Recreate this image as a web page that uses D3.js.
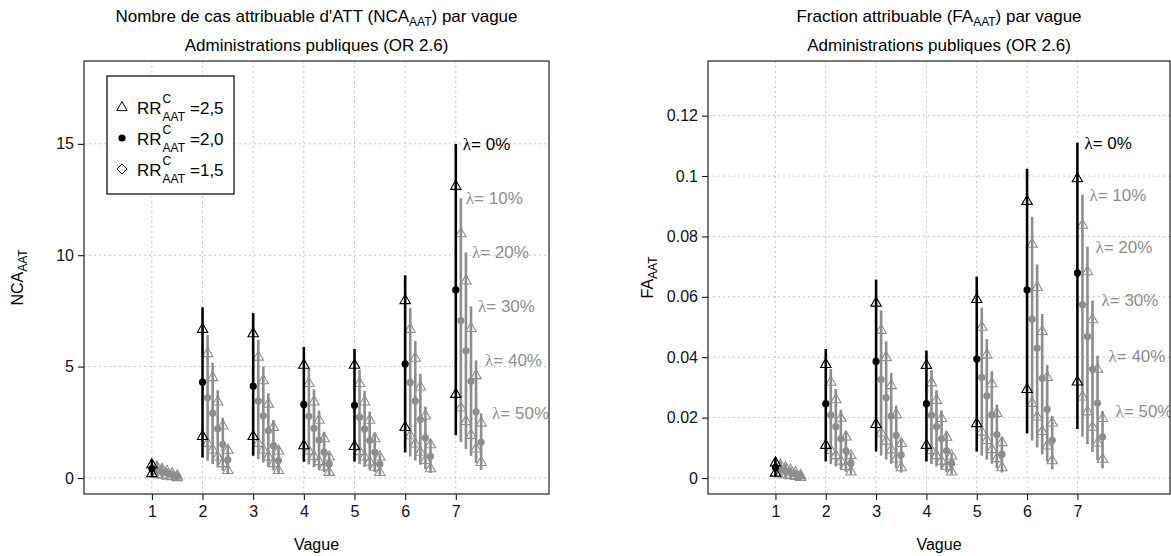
<!DOCTYPE html>
<html lang="fr">
<head>
<meta charset="UTF-8">
<title>NCA et FA attribuables par vague</title>
<script src="https://d3js.org/d3.v7.min.js"></script>
<style>
  body { margin: 0; background: #fff; }
  svg text { font-family: "Liberation Sans", Arial, sans-serif; }
</style>
</head>
<body>
<div id="chart"></div>
<script>
// Vagues et niveaux de lambda
var vagues = [1, 2, 3, 4, 5, 6, 7];
var lambdas = ["0%", "10%", "20%", "30%", "40%", "50%"];

// NCA : une ligne par lambda (0% .. 50%), une colonne par vague (1 .. 7)
var ncaHaut = [
  [0.85, 7.66, 7.40, 5.88, 5.79, 9.10, 14.99],
  [0.71, 6.42, 6.20, 4.93, 4.85, 7.63, 12.56],
  [0.57, 5.18, 5.00, 3.97, 3.91, 6.15, 10.13],
  [0.44, 3.94, 3.80, 3.02, 2.98, 4.68, 7.70],
  [0.30, 2.70, 2.60, 2.07, 2.04, 3.20, 5.28],
  [0.16, 1.46, 1.41, 1.12, 1.10, 1.73, 2.90]
];
var ncaRR25 = [
  [0.62, 6.70, 6.50, 5.09, 5.09, 7.99, 13.12],
  [0.52, 5.61, 5.45, 4.27, 4.27, 6.70, 10.99],
  [0.42, 4.53, 4.39, 3.44, 3.44, 5.40, 8.87],
  [0.32, 3.44, 3.34, 2.62, 2.62, 4.11, 6.74],
  [0.22, 2.36, 2.29, 1.79, 1.79, 2.81, 4.62],
  [0.12, 1.27, 1.24, 0.97, 0.97, 1.52, 2.49]
];
var ncaRR20 = [
  [0.42, 4.30, 4.12, 3.30, 3.26, 5.12, 8.44],
  [0.35, 3.60, 3.45, 2.77, 2.73, 4.29, 7.07],
  [0.28, 2.91, 2.79, 2.23, 2.20, 3.46, 5.71],
  [0.22, 2.21, 2.12, 1.70, 1.68, 2.63, 4.34],
  [0.15, 1.51, 1.45, 1.16, 1.15, 1.80, 2.97],
  [0.08, 0.82, 0.78, 0.63, 0.62, 0.97, 1.60]
];
var ncaRR15 = [
  [0.22, 1.89, 1.89, 1.47, 1.44, 2.29, 3.78],
  [0.18, 1.58, 1.58, 1.23, 1.21, 1.92, 3.17],
  [0.15, 1.28, 1.28, 0.99, 0.97, 1.55, 2.56],
  [0.11, 0.97, 0.97, 0.76, 0.74, 1.18, 1.94],
  [0.08, 0.67, 0.67, 0.52, 0.51, 0.81, 1.33],
  [0.04, 0.36, 0.36, 0.28, 0.27, 0.44, 0.72]
];
var ncaBas = [
  [0.08, 0.92, 1.00, 0.73, 0.74, 1.15, 1.92],
  [0.07, 0.77, 0.84, 0.61, 0.62, 0.96, 1.61],
  [0.05, 0.62, 0.68, 0.49, 0.50, 0.78, 1.30],
  [0.04, 0.47, 0.51, 0.38, 0.38, 0.59, 0.99],
  [0.03, 0.32, 0.35, 0.26, 0.26, 0.40, 0.68],
  [0.02, 0.17, 0.19, 0.14, 0.14, 0.22, 0.36]
];

// FA : même organisation
var faHaut = [
  [0.0068, 0.0427, 0.0657, 0.0422, 0.0667, 0.1024, 0.1110],
  [0.0057, 0.0361, 0.0555, 0.0357, 0.0564, 0.0865, 0.0938],
  [0.0047, 0.0295, 0.0453, 0.0291, 0.0460, 0.0707, 0.0766],
  [0.0036, 0.0226, 0.0348, 0.0224, 0.0354, 0.0543, 0.0588],
  [0.0025, 0.0156, 0.0240, 0.0154, 0.0243, 0.0374, 0.0405],
  [0.0014, 0.0085, 0.0131, 0.0084, 0.0133, 0.0205, 0.0222]
];
var faRR25 = [
  [0.0052, 0.0378, 0.0581, 0.0375, 0.0593, 0.0918, 0.0993],
  [0.0044, 0.0319, 0.0491, 0.0317, 0.0501, 0.0776, 0.0839],
  [0.0036, 0.0261, 0.0401, 0.0259, 0.0409, 0.0633, 0.0685],
  [0.0028, 0.0200, 0.0308, 0.0199, 0.0314, 0.0487, 0.0526],
  [0.0019, 0.0138, 0.0212, 0.0137, 0.0216, 0.0335, 0.0362],
  [0.0010, 0.0076, 0.0116, 0.0075, 0.0119, 0.0184, 0.0199]
];
var faRR20 = [
  [0.0035, 0.0246, 0.0386, 0.0246, 0.0394, 0.0623, 0.0679],
  [0.0030, 0.0208, 0.0326, 0.0208, 0.0333, 0.0526, 0.0574],
  [0.0024, 0.0170, 0.0266, 0.0170, 0.0272, 0.0430, 0.0469],
  [0.0019, 0.0130, 0.0205, 0.0130, 0.0209, 0.0330, 0.0360],
  [0.0013, 0.0090, 0.0141, 0.0090, 0.0144, 0.0227, 0.0248],
  [0.0007, 0.0049, 0.0077, 0.0049, 0.0079, 0.0125, 0.0136]
];
var faRR15 = [
  [0.0018, 0.0110, 0.0179, 0.0110, 0.0182, 0.0295, 0.0320],
  [0.0015, 0.0093, 0.0151, 0.0093, 0.0154, 0.0249, 0.0270],
  [0.0012, 0.0076, 0.0124, 0.0076, 0.0126, 0.0204, 0.0221],
  [0.0010, 0.0058, 0.0095, 0.0058, 0.0096, 0.0156, 0.0170],
  [0.0007, 0.0040, 0.0065, 0.0040, 0.0066, 0.0108, 0.0117],
  [0.0004, 0.0022, 0.0036, 0.0022, 0.0036, 0.0059, 0.0064]
];
var faBas = [
  [0.0006, 0.0055, 0.0088, 0.0055, 0.0088, 0.0147, 0.0162],
  [0.0005, 0.0046, 0.0074, 0.0046, 0.0074, 0.0124, 0.0137],
  [0.0004, 0.0038, 0.0061, 0.0038, 0.0061, 0.0101, 0.0112],
  [0.0003, 0.0029, 0.0047, 0.0029, 0.0047, 0.0078, 0.0086],
  [0.0002, 0.0020, 0.0032, 0.0020, 0.0032, 0.0054, 0.0059],
  [0.0001, 0.0011, 0.0018, 0.0011, 0.0018, 0.0029, 0.0032]
];

var ncaTicks = [0, 5, 10, 15];
var ncaTickLabels = ["0", "5", "10", "15"];
var faTicks = [0, 0.02, 0.04, 0.06, 0.08, 0.1, 0.12];
var faTickLabels = ["0", "0.02", "0.04", "0.06", "0.08", "0.1", "0.12"];
var legendLabels = ["=2,5", "=2,0", "=1,5"];

var width = 1171, height = 556;
var grey = "#8e8e8e";

var svg = d3.select("#chart").append("svg")
  .attr("width", width)
  .attr("height", height);

// triangle ouvert (pch 2)
function triangle(x, y) {
  return "M" + x + "," + (y - 5.5) + "L" + (x + 5.2) + "," + (y + 3.6) + "L" + (x - 5.2) + "," + (y + 3.6) + "Z";
}
function diamond(x, y) {
  return "M" + x + "," + (y - 5) + "L" + (x + 5) + "," + y + "L" + x + "," + (y + 5) + "L" + (x - 5) + "," + y + "Z";
}

// texte avec indice : main + sub + reste
function subText(g, x, y, main, sub, rest, size) {
  var t = g.append("text")
    .attr("x", x).attr("y", y)
    .attr("text-anchor", "middle")
    .style("font-size", size + "px");
  t.append("tspan").text(main);
  if (sub) t.append("tspan").attr("dy", 4).style("font-size", Math.round(size * 0.72) + "px").text(sub);
  if (rest) t.append("tspan").attr("dy", -4).text(rest);
  return t;
}

function drawPanel(p) {
  var g = svg.append("g");
  var x = d3.scaleLinear().domain([-0.34, 8.84]).range([p.left, p.right]);
  var y = d3.scaleLinear().domain(p.yDomain).range([p.bottom, p.top]);
  var cx = (p.left + p.right) / 2;

  // titres
  subText(g, cx, 22, p.title[0], p.title[1], p.title[2], 17);
  g.append("text").attr("x", cx).attr("y", 51)
    .attr("text-anchor", "middle").style("font-size", "17px")
    .text("Administrations publiques (OR 2.6)");

  // grille
  g.selectAll(".gx").data(vagues).enter().append("line")
    .attr("x1", function(d) { return x(d); }).attr("x2", function(d) { return x(d); })
    .attr("y1", p.top).attr("y2", p.bottom)
    .attr("stroke", "#c4c4c4").attr("stroke-dasharray", "2,3");
  g.selectAll(".gy").data(p.ticks).enter().append("line")
    .attr("y1", function(d) { return y(d); }).attr("y2", function(d) { return y(d); })
    .attr("x1", p.left).attr("x2", p.right)
    .attr("stroke", "#c4c4c4").attr("stroke-dasharray", "2,3");

  // axes
  var ax = g.append("g").attr("transform", "translate(0," + p.bottom + ")")
    .call(d3.axisBottom(x).tickValues(vagues).tickSize(6).tickSizeOuter(0).tickPadding(6));
  var ay = g.append("g").attr("transform", "translate(" + p.left + ",0)")
    .call(d3.axisLeft(y).tickValues(p.ticks).tickSize(6).tickSizeOuter(0).tickPadding(4)
      .tickFormat(function(d, i) { return p.tickLabels[i]; }));
  [ax, ay].forEach(function(a) {
    a.select(".domain").remove();
    a.selectAll("text").style("font-size", "16px").attr("fill", "#111")
      .style("font-family", "'Liberation Sans', Arial, sans-serif");
    a.selectAll("line").attr("stroke", "#000");
  });

  // étiquettes d'axes
  subText(g, cx, 550, "Vague", "", "", 16);
  var yl = subText(g, 0, 0, p.ylab, "AAT", "", 16);
  yl.attr("transform", "translate(" + p.ylabX + "," + ((p.top + p.bottom) / 2) + ") rotate(-90)");

  // clip de la zone de tracé
  var clipId = "clip" + p.id;
  g.append("clipPath").attr("id", clipId).append("rect")
    .attr("x", p.left).attr("y", p.top)
    .attr("width", p.right - p.left).attr("height", p.bottom - p.top);
  var plot = g.append("g").attr("clip-path", "url(#" + clipId + ")");

  // barres et points, du plus grand lambda au plus petit
  for (var k = lambdas.length - 1; k >= 0; k--) {
    var col = k === 0 ? "#000" : grey;
    vagues.forEach(function(v, i) {
      var px = x(v + 0.1 * k);
      plot.append("line")
        .attr("x1", px).attr("x2", px)
        .attr("y1", y(p.hi[k][i])).attr("y2", y(p.lo[k][i]))
        .attr("stroke", col).attr("stroke-width", 2.6);
      plot.append("path").attr("d", triangle(px, y(p.rr25[k][i])))
        .attr("fill", "none").attr("stroke", col).attr("stroke-width", 1.1);
      plot.append("path").attr("d", triangle(px, y(p.rr15[k][i])))
        .attr("fill", "none").attr("stroke", col).attr("stroke-width", 1.1);
      plot.append("circle").attr("cx", px).attr("cy", y(p.rr20[k][i]))
        .attr("r", 3.6).attr("fill", col);
    });
    // étiquette lambda en haut de la barre de la vague 7
    var lt = plot.append("text")
      .attr("x", x(7 + 0.1 * k) + p.lblDx[k])
      .attr("y", y(p.hi[k][6]) + 6)
      .style("font-size", "17px")
      .attr("fill", k === 0 ? "#000" : grey);
    lt.append("tspan").style("font-family", "'Liberation Serif', serif").text("λ");
    lt.append("tspan").text("= " + lambdas[k]);
  }

  // cadre
  g.append("rect")
    .attr("x", p.left).attr("y", p.top)
    .attr("width", p.right - p.left).attr("height", p.bottom - p.top)
    .attr("fill", "none").attr("stroke", "#333").attr("stroke-width", 1.3);

  return g;
}

var gL = drawPanel({
  id: "L", left: 84, right: 549, top: 61, bottom: 494,
  yDomain: [-0.72, 18.72], ticks: ncaTicks, tickLabels: ncaTickLabels,
  title: ["Nombre de cas attribuable d'ATT (NCA", "AAT", ") par vague"],
  ylab: "NCA", ylabX: 23,
  hi: ncaHaut, rr25: ncaRR25, rr20: ncaRR20, rr15: ncaRR15, lo: ncaBas,
  lblDx: [7, 5, 6, 7, 9, 11]
});

drawPanel({
  id: "R", left: 708, right: 1170, top: 61, bottom: 494,
  yDomain: [-0.0053, 0.1381], ticks: faTicks, tickLabels: faTickLabels,
  title: ["Fraction attribuable (FA", "AAT", ") par vague"],
  ylab: "FA", ylabX: 653,
  hi: faHaut, rr25: faRR25, rr20: faRR20, rr15: faRR15, lo: faBas,
  lblDx: [7, 7, 8, 9, 11, 13]
});

// légende (panneau de gauche)
var leg = gL.append("g");
leg.append("rect").attr("x", 107).attr("y", 76).attr("width", 127).attr("height", 118)
  .attr("fill", "#fff").attr("stroke", "#000").attr("stroke-width", 1.2);
legendLabels.forEach(function(lab, i) {
  var cy = 107 + i * 31;
  if (i === 0) leg.append("path").attr("d", triangle(122, cy)).attr("fill", "none").attr("stroke", "#000");
  if (i === 1) leg.append("circle").attr("cx", 122).attr("cy", cy).attr("r", 3.6).attr("fill", "#000");
  if (i === 2) leg.append("path").attr("d", diamond(122, cy)).attr("fill", "none").attr("stroke", "#000");
  var rr = leg.append("text").attr("x", 137).attr("y", cy + 7).style("font-size", "17px").text("RR");
  var w = rr.node().getComputedTextLength();
  leg.append("text").attr("x", 137 + w + 1).attr("y", cy - 4).style("font-size", "12px").text("C");
  var sub = leg.append("text").attr("x", 137 + w + 1).attr("y", cy + 14).style("font-size", "12px").text("AAT");
  var ws = sub.node().getComputedTextLength();
  leg.append("text").attr("x", 137 + w + ws + 6).attr("y", cy + 7).style("font-size", "17px").text(lab);
});
</script>
</body>
</html>
